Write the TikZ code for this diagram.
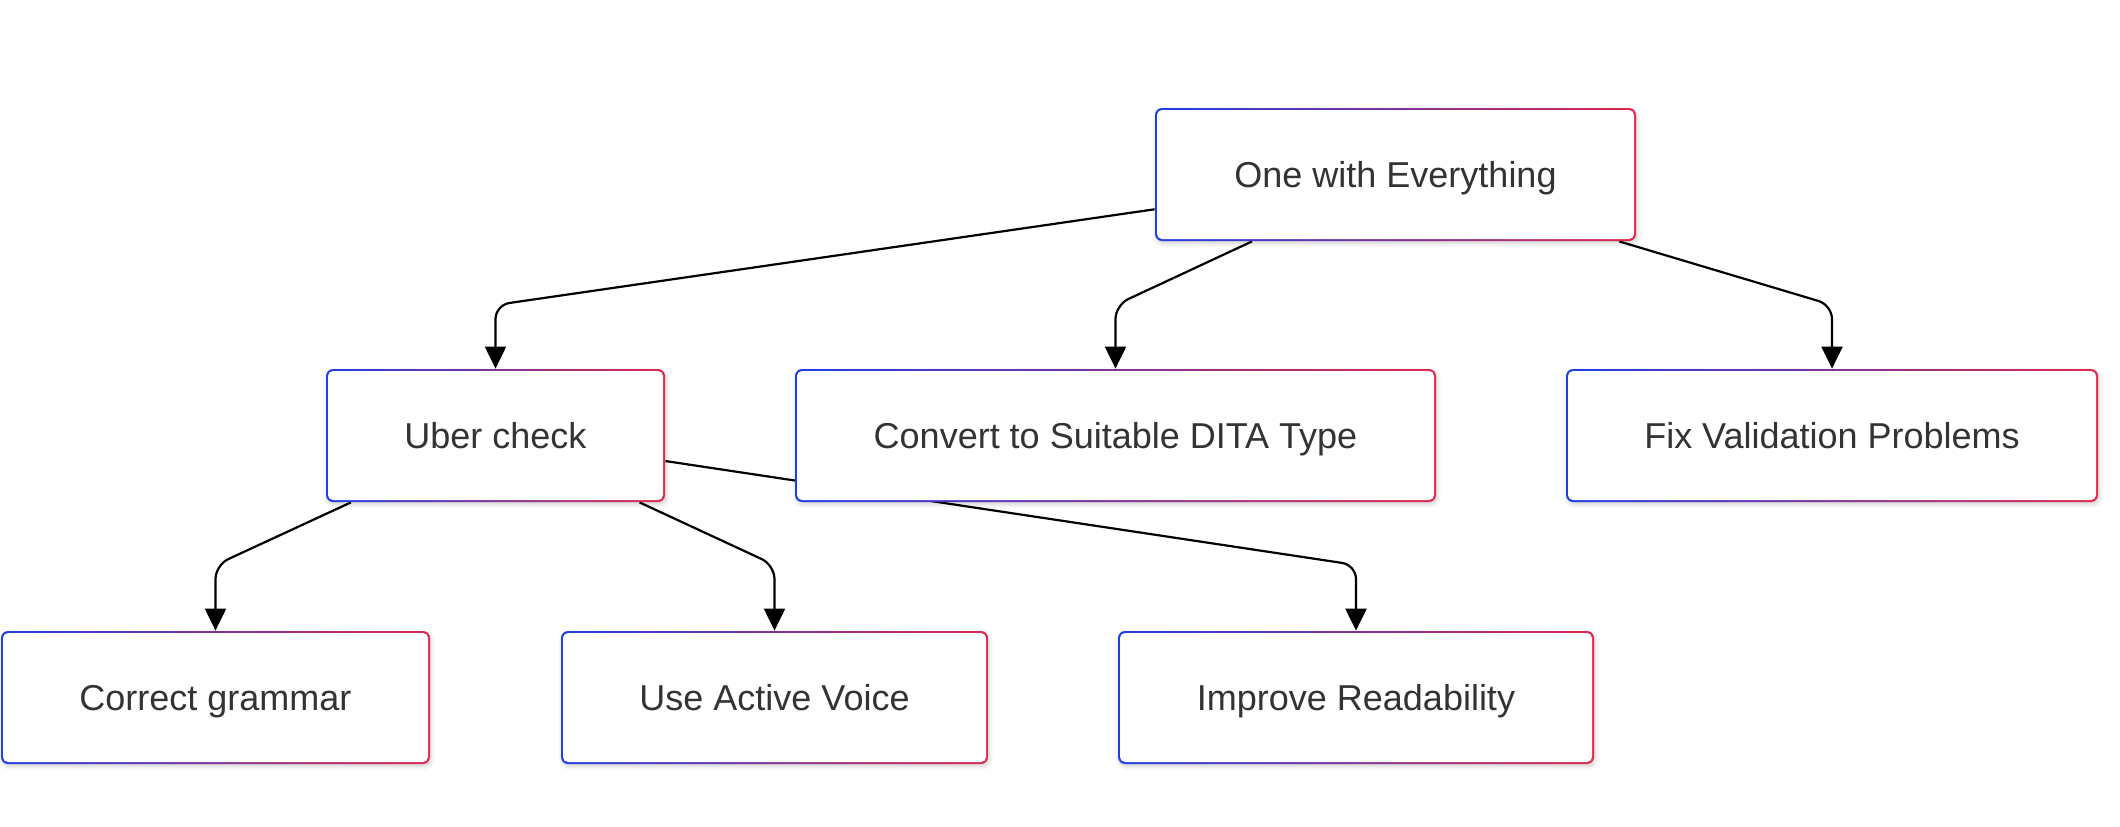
\documentclass[tikz,border=0pt]{standalone}
\usepackage{fontspec}
\setmainfont{Liberation Sans}
\usetikzlibrary{arrows.meta,shadows.blur,backgrounds}
\definecolor{edgeblue}{HTML}{1F3FE6}
\definecolor{edgered}{HTML}{E0284C}
\definecolor{inkgray}{HTML}{333333}

\begin{document}
\begin{tikzpicture}[
  x=0.5pt,y=-0.5pt,
  task/.style={rounded corners=3.5pt,left color=edgeblue,right color=edgered,inner sep=0pt,minimum height=66.5pt,text height=16pt,text depth=3.1pt,text=inkgray,font=\fontsize{18}{22}\selectfont,
    blur shadow={shadow xshift=0.6pt,shadow yshift=-1.2pt,shadow blur steps=6,shadow opacity=18},
    path picture={\fill[white,rounded corners=2.5pt] ([shift={(1pt,1pt)}]path picture bounding box.south west) rectangle ([shift={(-1pt,-1pt)}]path picture bounding box.north east);}},
  arr/.style={-{Triangle[length=11pt,width=10.5pt]},line width=1.1pt,rounded corners=7pt}
]
\useasboundingbox (0,0) rectangle (2120,826);

% top
\node[task,minimum width=240.5pt] (one) at (1395.5,174.5) {One with Everything};

% second row
\node[task,minimum width=169.5pt] (uber) at (495.5,435.5) {Uber check};
\node[task,minimum width=320.5pt] (convert) at (1115.5,435.5) {Convert to Suitable DITA Type};
\node[task,minimum width=266pt] (fix) at (1832,435.5) {Fix Validation Problems};

% third row
\node[task,minimum width=214.5pt] (grammar) at (215.5,697.5) {Correct grammar};
\node[task,minimum width=213.5pt] (active) at (774.5,697.5) {Use Active Voice};
\node[task,minimum width=238pt] (readability) at (1356,697.5) {Improve Readability};

\begin{scope}[on background layer]
\draw[arr] (one) -- (uber.north |- 0,305) -- (uber.north);
\draw[arr] (one) -- (convert.north |- 0,305) -- (convert.north);
\draw[arr] (one) -- (fix.north |- 0,305) -- (fix.north);
\draw[arr] (uber) -- (grammar.north |- 0,565) -- (grammar.north);
\draw[arr] (uber) -- (active.north |- 0,565) -- (active.north);
\draw[arr] (uber) -- (readability.north |- 0,565) -- (readability.north);
\end{scope}
\end{tikzpicture}
\end{document}
